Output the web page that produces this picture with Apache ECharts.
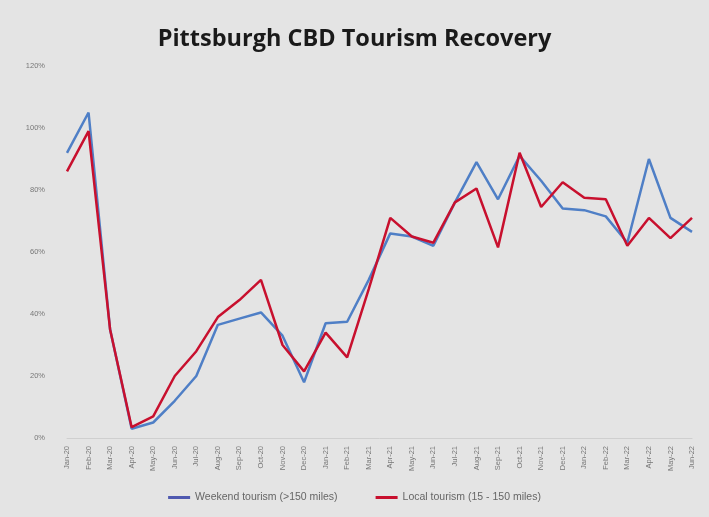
<!DOCTYPE html>
<html>
<head>
<meta charset="utf-8">
<script src="https://cdn.jsdelivr.net/npm/echarts@6/dist/echarts.min.js"></script>
<style>
html,body{margin:0;padding:0;background:#e4e4e4;}
#c{width:709px;height:517px;}
</style>
</head>
<body>
<div id="c"></div>
<script>
const categories = ["Jan-20","Feb-20","Mar-20","Apr-20","May-20","Jun-20","Jul-20","Aug-20","Sep-20","Oct-20","Nov-20","Dec-20",
  "Jan-21","Feb-21","Mar-21","Apr-21","May-21","Jun-21","Jul-21","Aug-21","Sep-21","Oct-21","Nov-21","Dec-21",
  "Jan-22","Feb-22","Mar-22","Apr-22","May-22","Jun-22"];
const weekendTourism = [92,105,35,3,5,12,20,36.5,38.5,40.5,33,18,37,37.5,51,66,65,62,76,89,77,91,83,74,73.5,71.5,63,90,71,66.5];
const localTourism = [86,99,35,3.5,7,20,28,39,44.5,51,30,21.5,34,26,48,71,65,63,76,80.5,61.5,92,74.5,82.5,77.5,77,62,71,64.5,71];
const yTicks = [0,20,40,60,80,100,120];

const chart = echarts.init(document.getElementById('c'));
chart.setOption({
  backgroundColor: '#e4e4e4',
  animation: false,
  title: {
    text: 'Pittsburgh CBD Tourism Recovery',
    left: 'center', top: 22,
    textStyle: {fontFamily: 'Open Sans', fontWeight: 'bold', fontSize: 23.5, color: '#1a1a1a'}
  },
  legend: {
    bottom: 9, left: 'center', itemGap: 38, itemWidth: 22, itemHeight: 3,
    icon: 'rect',
    textStyle: {fontSize: 10.5, color: '#666', fontFamily: 'Liberation Sans'},
    data: ['Weekend tourism (>150 miles)', 'Local tourism (15 - 150 miles)']
  },
  grid: {left: 67, right: 17, top: 66, bottom: 79},
  xAxis: {
    type: 'category', data: categories, boundaryGap: false,
    axisLine: {show: true, lineStyle: {color: '#cfcfcf'}},
    axisTick: {show: false},
    axisLabel: {rotate: 90, fontSize: 7.5, color: '#777', interval: 0, margin: 8}
  },
  yAxis: {
    type: 'value', min: 0, max: 120, interval: 20,
    splitLine: {show: false},
    axisLine: {show: false}, axisTick: {show: false},
    axisLabel: {fontSize: 7.5, color: '#777', margin: 22,
      formatter: v => yTicks.includes(v) ? v + '%' : ''}
  },
  series: [
    {name: 'Weekend tourism (>150 miles)', type: 'line', data: weekendTourism, symbol: 'none',
     lineStyle: {width: 2.5, color: '#4f7fc6'}, itemStyle: {color: '#4f59b0'}},
    {name: 'Local tourism (15 - 150 miles)', type: 'line', data: localTourism, symbol: 'none',
     lineStyle: {width: 2.5, color: '#c8102e'}, itemStyle: {color: '#c8102e'}}
  ]
});
</script>
</body>
</html>
